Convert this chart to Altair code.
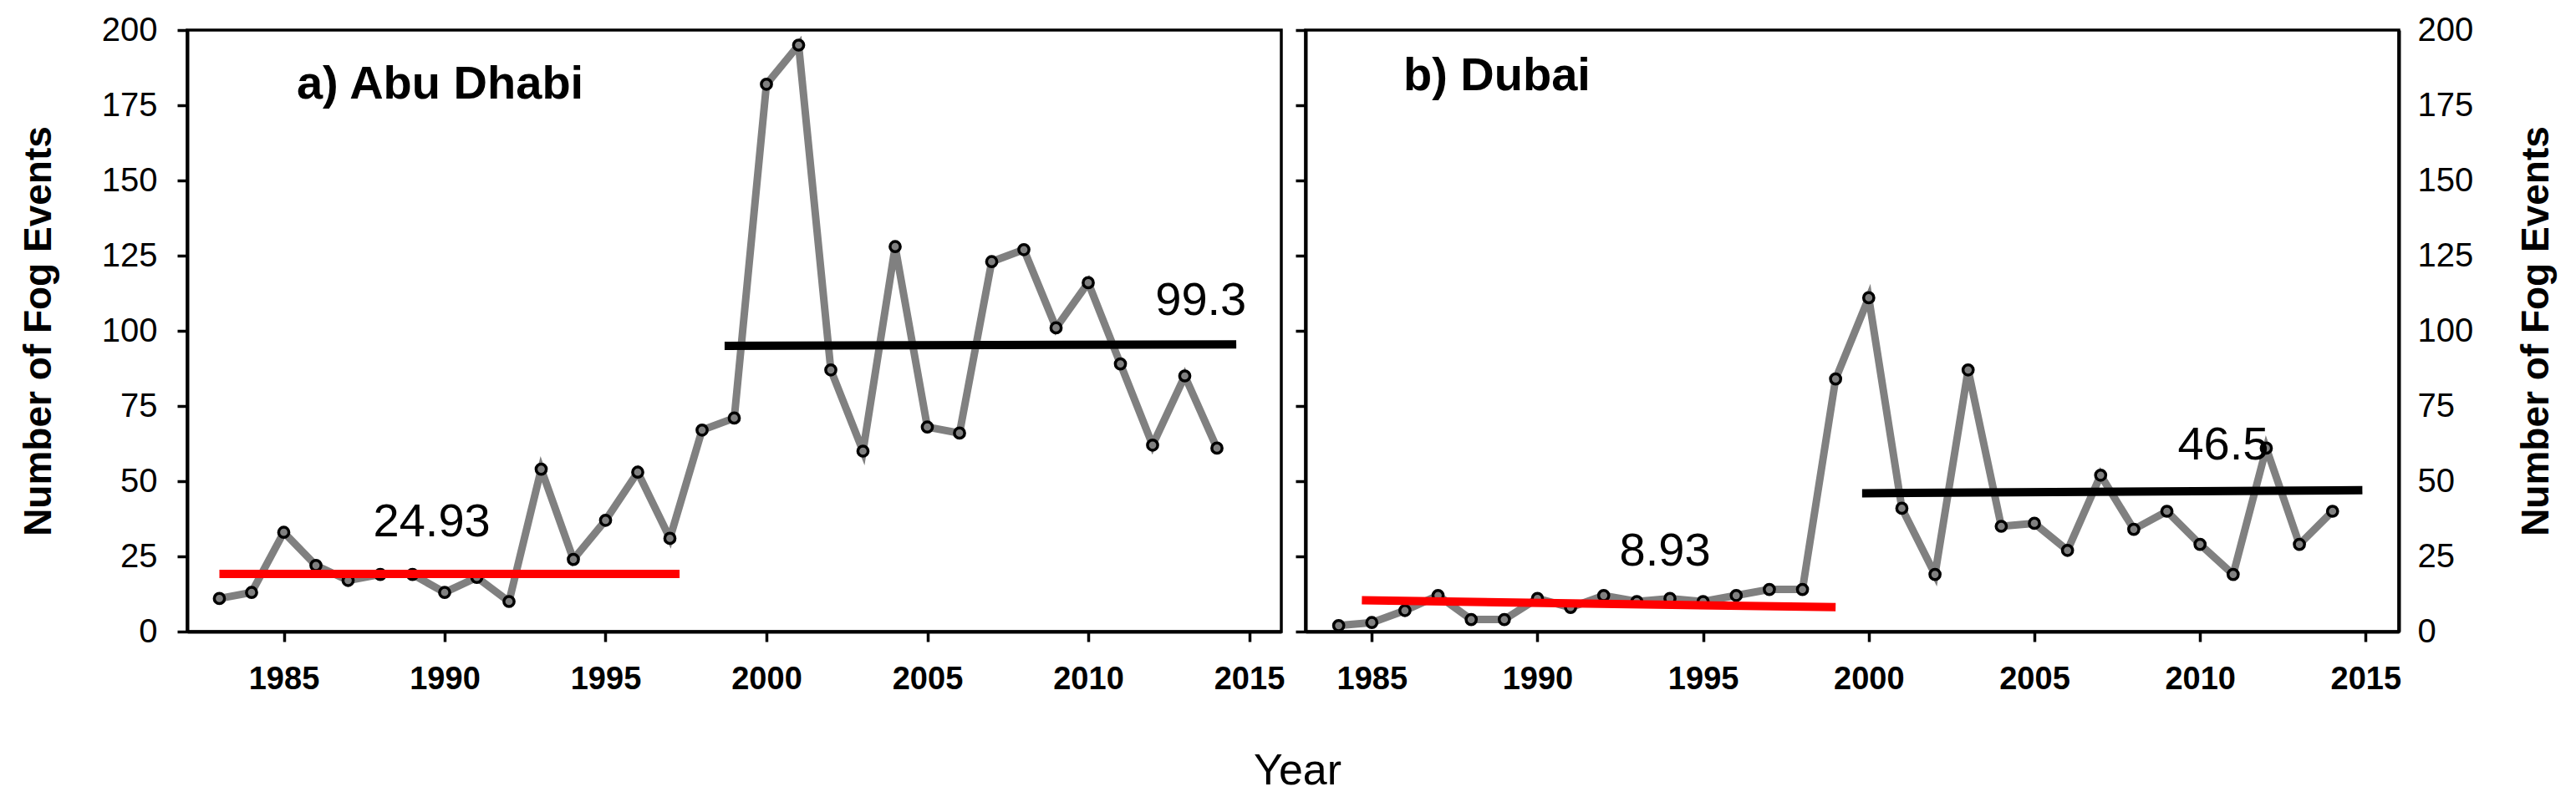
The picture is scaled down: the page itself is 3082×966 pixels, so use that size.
import altair as alt
import pandas as pd

# ---------------- data ----------------
years_abu = list(range(1983, 2015))
fog_abu = [11, 13, 33, 22, 17, 19, 19, 13, 18, 10, 54, 24, 37, 53, 31,
           67, 71, 182, 195, 87, 60, 128, 68, 66, 123, 127, 101, 116, 89, 62, 85, 61]

years_dxb = list(range(1984, 2015))
fog_dxb = [2, 3, 7, 12, 4, 4, 11, 8, 12, 10, 11, 10, 12, 14, 14,
           84, 111, 41, 19, 87, 35, 36, 27, 52, 34, 40, 29, 19, 61, 29, 40]

# trend segments (start year, end year, start value, end value, colour)
trend_abu_x0 = [1983.0, 1998.7]
trend_abu_x1 = [1997.3, 2014.6]
trend_abu_y0 = [19.2, 95.0]
trend_abu_y1 = [19.2, 95.5]
trend_dxb_x0 = [1984.7, 1999.8]
trend_dxb_x1 = [1999.0, 2014.9]
trend_dxb_y0 = [10.4, 46.0]
trend_dxb_y1 = [8.1, 47.0]
trend_colors = ["#ff0000", "#000000"]

# period means written on the panels
mean_abu_text = ["24.93", "99.3"]
mean_abu_x = [1989.6, 2013.5]
mean_abu_y = [36.4, 110.0]
mean_dxb_text = ["8.93", "46.5"]
mean_dxb_x = [1993.85, 2010.7]
mean_dxb_y = [26.7, 61.9]

panel_labels = ["a) Abu Dhabi", "b) Dubai"]
panel_label_x = [1985.4, 1985.95]
panel_label_y = [177.2, 180.0]

x_ticks = [1985, 1990, 1995, 2000, 2005, 2010, 2015]
y_ticks = [0, 25, 50, 75, 100, 125, 150, 175, 200]

FONT = "Liberation Sans"
H = 720


def x_axis(with_title):
    kw = dict(values=x_ticks, format="d", labelFont=FONT, labelFontSize=38,
              labelFontWeight="bold", labelColor="black", labelPadding=26,
              labelFlush=False, labelOverlap=False, tickSize=12, tickWidth=3.5,
              tickColor="black", domainColor="black", domainWidth=4, grid=False,
              orient="bottom")
    if with_title:
        kw.update(title="Year", titleFont=FONT, titleFontSize=52,
                  titleFontWeight="normal", titleColor="black", titleX=1328,
                  titleY=182, titleAlign="center", titleBaseline="alphabetic")
    else:
        kw.update(title=None)
    return alt.Axis(**kw)


def panel(years, vals, xdom, tx0, tx1, ty0, ty1, mtext, mx, my, idx, width, left):
    df = pd.DataFrame({"year": years, "fog": vals})
    dtrend = pd.DataFrame({"x0": tx0, "x1": tx1, "y0": ty0, "y1": ty1, "col": trend_colors})
    dmean = pd.DataFrame({"x": mx, "y": my, "t": mtext})
    dlab = pd.DataFrame({"x": [panel_label_x[idx]], "y": [panel_label_y[idx]],
                         "t": [panel_labels[idx]]})
    xs = alt.Scale(domain=xdom, nice=False, zero=False)
    ys = alt.Scale(domain=[0, 200], nice=False)
    xax = x_axis(left)

    title_kw = dict(title="Number of Fog Events", titleFont=FONT, titleFontSize=46,
                    titleFontWeight="bold", titleColor="black", titleAngle=270,
                    titleY=360, titleAlign="center", titleBaseline="alphabetic")
    if left:
        yaxis = alt.Axis(values=y_ticks, orient="left", labelFont=FONT, labelFontSize=40,
                         labelColor="black", labelPadding=24, tickSize=12, tickWidth=3.5,
                         tickColor="black", domainColor="black", domainWidth=4, grid=False,
                         titleX=-164, **title_kw)
        ya, yb, yo = yaxis, yaxis, yaxis
    else:
        ya = alt.Axis(values=y_ticks, orient="left", labels=False, tickSize=12,
                      tickWidth=3.5, tickColor="black", domainColor="black",
                      domainWidth=4, grid=False, title=None)
        yb = alt.Axis(values=y_ticks, orient="right", labelFont=FONT, labelFontSize=40,
                      labelColor="black", labelPadding=22, ticks=False, tickSize=0,
                      domainColor="black", domainWidth=4, grid=False,
                      titleX=178, **title_kw)
        yo = None

    line = alt.Chart(df).mark_line(color="#808080", strokeWidth=9).encode(
        x=alt.X("year:Q", scale=xs, axis=xax),
        y=alt.Y("fog:Q", scale=ys, axis=ya),
    )
    pts = alt.Chart(df).mark_point(shape="circle", filled=True, fill="#808080",
                                   stroke="black", strokeWidth=3.5, size=150,
                                   opacity=1).encode(
        x=alt.X("year:Q", scale=xs, axis=xax),
        y=alt.Y("fog:Q", scale=ys, axis=yb),
    )
    trend = alt.Chart(dtrend).mark_rule(strokeWidth=10, strokeCap="butt").encode(
        x=alt.X("x0:Q", scale=xs, axis=xax), x2="x1:Q",
        y=alt.Y("y0:Q", scale=ys, axis=yo), y2="y1:Q",
        color=alt.Color("col:N", scale=None),
    )
    means = alt.Chart(dmean).mark_text(font=FONT, fontSize=56, align="center",
                                       baseline="middle", color="black").encode(
        x=alt.X("x:Q", scale=xs, axis=xax),
        y=alt.Y("y:Q", scale=ys, axis=yo),
        text="t:N",
    )
    lab = alt.Chart(dlab).mark_text(font=FONT, fontSize=56, fontWeight="bold",
                                    align="left", baseline="alphabetic",
                                    color="black").encode(
        x=alt.X("x:Q", scale=xs, axis=xax),
        y=alt.Y("y:Q", scale=ys, axis=yo),
        text="t:N",
    )
    ch = alt.layer(line, pts, trend, means, lab).properties(width=width, height=H)
    if not left:
        ch = ch.resolve_axis(y="independent")
    return ch


left_chart = panel(years_abu, fog_abu, [1982, 2016], trend_abu_x0, trend_abu_x1,
                   trend_abu_y0, trend_abu_y1, mean_abu_text, mean_abu_x, mean_abu_y,
                   0, 1309, True)
right_chart = panel(years_dxb, fog_dxb, [1983, 2016], trend_dxb_x0, trend_dxb_x1,
                    trend_dxb_y0, trend_dxb_y1, mean_dxb_text, mean_dxb_x, mean_dxb_y,
                    1, 1308, False)

chart = alt.hconcat(left_chart, right_chart, spacing=29, bounds="flush").configure_view(
    stroke="black", strokeWidth=3.5
).properties(
    background="white",
    autosize=alt.AutoSizeParams(type="none"),
    padding={"left": 216, "top": 28, "right": 2842, "bottom": 914},
)

chart.save("out.html", embed_options={"renderer": "svg", "actions": False})
